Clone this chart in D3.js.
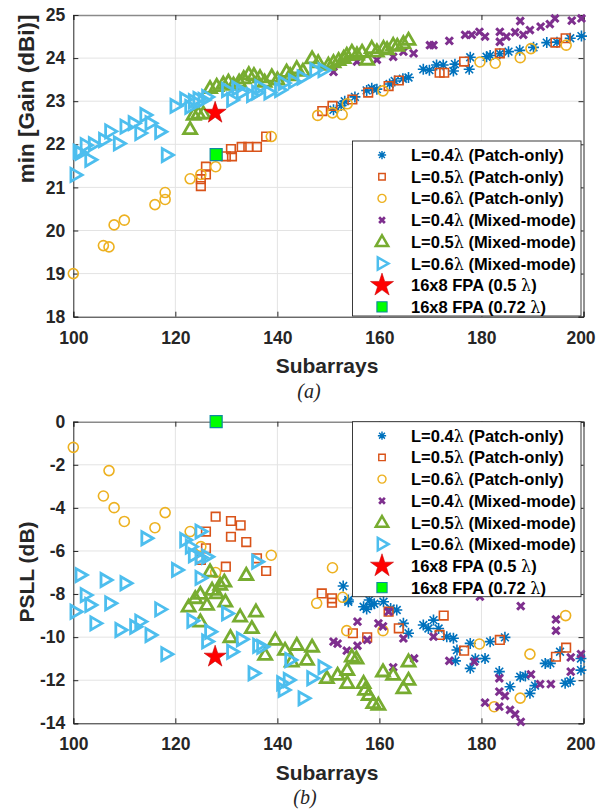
<!DOCTYPE html>
<html><head><meta charset="utf-8">
<script src="https://cdn.jsdelivr.net/npm/d3@7"></script>
<style>body{margin:0;background:#fff}svg{display:block}</style>
</head><body>
<script>
// ---------- DATA ----------
const xTicks = [100,120,140,160,180,200];
const gainTicks = [18,19,20,21,22,23,24,25];
const psllTicks = [0,-2,-4,-6,-8,-10,-12,-14];
const legendLabels = ["L=0.4λ (Patch-only)","L=0.5λ (Patch-only)","L=0.6λ (Patch-only)","L=0.4λ (Mixed-mode)","L=0.5λ (Mixed-mode)","L=0.6λ (Mixed-mode)","16x8 FPA (0.5 λ)","16x8 FPA (0.72 λ)"];

const gainP04 = [[151,22.8],[152.5,22.9],[153.2,23.0],[155.2,23.1],[157.5,23.25],[158.5,23.3],[159.5,23.28],[162,23.4],[163,23.47],[164.6,23.52],[165.7,23.55],[168.6,23.74],[169.8,23.72],[171.2,23.84],[172.5,23.84],[174.5,23.7],[174.8,23.86],[177.6,23.74],[177.8,24.02],[181,24.03],[181.7,24.06],[183.6,24.1],[185.3,24.15],[187.5,24.18],[190.2,24.25],[192.8,24.36],[194.8,24.37],[197.4,24.46],[199.6,24.51]];
const gainP05 = [[125,21.03],[125,21.19],[126,21.3],[126,21.48],[129.9,21.72],[131.1,21.72],[130.9,21.89],[133,21.94],[134.3,21.94],[136,21.94],[137.8,22.18],[148.8,22.77],[150.8,22.89],[154.7,23.04],[157.8,23.2],[161.8,23.35],[163.8,23.48],[171.8,23.66],[172.7,23.66],[176.6,23.92],[183.6,24.11],[194.5,24.36],[196.5,24.46]];
const gainP06 = [[100,19.0],[105.9,19.65],[107,19.62],[108,20.13],[110,20.24],[116,20.6],[118,20.72],[118,20.88],[122.9,21.2],[125,21.3],[127.9,21.48],[138.8,22.18],[147.9,22.67],[150.8,22.73],[152.7,22.69],[153.7,22.94],[160.7,23.24],[179.7,23.91],[182.7,23.88],[187.6,24.01],[189.7,24.22],[196.6,24.3]];
const gainM04 = [[151,23.68],[155.6,23.92],[159.5,23.96],[162.7,24.03],[164.7,24.15],[166.7,24.11],[169.9,24.3],[170.6,24.3],[173.7,24.4],[176.8,24.54],[178.1,24.54],[179.6,24.61],[180.7,24.5],[183.6,24.61],[183.6,24.38],[184.9,24.5],[186.6,24.6],[187.6,24.86],[188.2,24.54],[189.5,24.65],[191.6,24.73],[193.4,24.79],[194.4,24.92],[197.7,24.87],[199.6,24.92]];
const gainM05 = [[122.9,22.35],[123.6,22.68],[124.5,22.71],[125.5,22.71],[126.8,23.3],[128.1,23.35],[129.4,23.4],[130.4,23.45],[131.4,23.38],[132.5,23.45],[133.4,23.53],[134.4,23.62],[135.4,23.6],[136.6,23.55],[137.5,23.45],[138.9,23.57],[140,23.5],[141.8,23.68],[142.5,23.6],[143.8,23.76],[145,23.7],[146.8,23.99],[148,23.9],[150,23.84],[151,23.9],[152,23.95],[153,24.0],[153.6,24.07],[154.6,24.14],[155.6,24.08],[156.6,24.14],[157.6,23.96],[158.5,24.23],[159.5,24.15],[160.8,24.23],[161.5,24.2],[162.7,24.3],[163.5,24.28],[164.7,24.34],[165.7,24.42]];
const gainM06 = [[100.4,21.29],[101,21.83],[101.4,21.8],[102.4,21.98],[103.3,21.64],[104,22.0],[106,22.1],[107.2,22.3],[108.9,22.02],[110.2,22.41],[111.8,22.49],[113.1,22.26],[114.1,22.68],[115.1,22.49],[117,22.29],[118.3,21.75],[120,22.89],[121.9,23.04],[122.9,22.87],[123.6,23.0],[124.5,23.05],[125.5,23.03],[126.2,23.1],[130.1,23.26],[131.1,23.03],[132.1,23.3],[133,23.2],[135,23.14],[136,23.2],[136.6,23.33],[138.4,23.2],[140.5,23.26],[141.2,23.42],[143.2,23.46],[144.9,23.55],[147.4,23.72],[149,23.72]];
const gainStar = [[127.8,22.73]];
const gainFPA = [[128,21.76]];

const psllP04 = [[152.9,-7.63],[153.9,-8.28],[153.9,-8.36],[156.9,-8.59],[157.5,-8.7],[158,-8.28],[158.4,-8.5],[159,-8.45],[160.8,-8.36],[162.2,-8.67],[163.4,-8.74],[164.7,-9.36],[165.7,-9.82],[168.6,-9.44],[169.6,-9.6],[170.6,-9.21],[171.6,-9.6],[173.2,-9.98],[174.5,-10.05],[175.2,-10.6],[174.9,-11.1],[177.8,-10.29],[177.8,-11.45],[178.8,-11.0],[180.7,-10.99],[181.7,-10.21],[184.6,-10.01],[183.5,-11.6],[185.6,-12.3],[187.6,-11.84],[188.6,-11.8],[189.5,-12.61],[190.5,-12.25],[192.5,-11.22],[193.5,-11.22],[195.4,-10.68],[196.4,-12.14],[197.4,-12.05],[199.5,-10.99],[199.5,-11.53]];
const psllP05 = [[127.9,-4.41],[130.9,-4.61],[132.8,-4.81],[130.9,-5.34],[133.9,-5.59],[126,-5.1],[126,-5.88],[125,-6.42],[129.9,-6.73],[136,-6.34],[137.8,-6.93],[148.7,-7.97],[150.7,-8.2],[150.7,-8.4],[154.8,-9.82],[157.6,-10.01],[161.8,-8.82],[163.8,-9.59],[172.6,-9.0],[171.8,-9.9],[176.6,-10.63],[183.6,-10.13],[194.6,-10.91],[196.6,-10.49]];
const psllP06 = [[100,-1.19],[107,-2.27],[105.9,-3.45],[108,-3.99],[110,-4.63],[116,-4.92],[118,-4.22],[122.9,-5.1],[125,-5.8],[127.9,-7.0],[138.8,-6.2],[150.8,-6.78],[147.7,-8.43],[152.8,-8.15],[153.6,-9.7],[160.7,-9.7],[179.6,-10.32],[182.5,-13.23],[187.6,-12.83],[189.5,-10.79],[196.5,-9.0]];
const psllM04 = [[151,-10.21],[151.8,-10.3],[153.6,-10.63],[155.7,-9.28],[155.7,-10.4],[157.6,-10.13],[159.8,-9.36],[160.7,-9.5],[161.8,-8.82],[162.7,-11.4],[164.7,-10.06],[166.8,-10.99],[170.6,-9.98],[173.7,-11.1],[178.6,-11.14],[179.7,-8.12],[180.7,-13.04],[183.5,-11.91],[183.5,-12.53],[184.6,-12.73],[183.5,-13.23],[185.6,-13.38],[186.6,-13.58],[187.7,-13.93],[187.7,-8.56],[189.7,-11.73],[191.5,-12.18],[193.6,-12.18],[194.6,-9.18],[194.6,-9.7],[197.5,-10.94],[197.5,-11.6],[199.5,-10.79]];
const psllM05 = [[126.8,-6.96],[129.6,-7.43],[133.9,-7.12],[122.6,-8.59],[123.9,-8.2],[124.9,-8.0],[126.2,-8.51],[127.2,-7.81],[128.8,-7.58],[128.1,-7.97],[129.8,-8.36],[124.9,-9.28],[130.8,-10.01],[132.7,-9.05],[135,-9.59],[135.8,-8.82],[139.6,-10.13],[137.6,-10.83],[141.5,-10.6],[143.8,-10.37],[142.8,-11.14],[145.8,-11.06],[146.8,-10.45],[149.7,-11.91],[151.8,-11.76],[153.7,-11.53],[153.7,-12.14],[154.6,-10.91],[155.5,-11.0],[156.9,-12.14],[157.2,-12.45],[157.9,-12.69],[158.8,-13.07],[159.8,-13.15],[160.7,-11.6],[162.7,-11.76],[164.7,-12.38],[165.7,-11.99],[165.7,-11.14]];
const psllM06 = [[114.3,-5.41],[121.9,-5.49],[123,-5.8],[124.9,-5.1],[123.6,-6.2],[124.9,-6.3],[126.2,-6.27],[124.9,-7.25],[120.3,-6.88],[101.4,-7.12],[106.3,-7.35],[110.2,-7.5],[102.4,-8.05],[103.3,-8.51],[100.4,-8.82],[107.2,-8.43],[104.3,-9.36],[109.2,-9.67],[112.1,-9.52],[113.1,-9.28],[115.1,-9.9],[117,-8.71],[118.2,-10.79],[123.3,-9.24],[126.8,-9.75],[126.2,-10.2],[130.1,-8.9],[131.1,-10.68],[133,-10.1],[135.3,-11.68],[136.2,-10.4],[136,-6.5],[137,-10.45],[142.5,-11.06],[140.9,-12.14],[141.2,-12.45],[142.2,-11.99],[146.8,-11.91],[149,-11.4],[145.1,-12.84]];
const psllStar = [[127.8,-10.91]];
const psllFPA = [[128,0]];

// ---------- STYLE ----------
const C = {blue:"#0072BD", orange:"#D95319", yellow:"#EDB120", purple:"#7E2F8E", green:"#77AC30", cyan:"#4DBEEE", red:"#FF0000", lime:"#00FF00"};
const FONT = "'Liberation Sans', Arial, Helvetica, sans-serif";

const W = 597, H = 810;
const svg = d3.select("body").append("svg").attr("width", W).attr("height", H);

function markerPath(type, s) {
  const p = d3.path();
  if (type === "ast") {
    const r = 5.5*s, d = r*0.707;
    p.moveTo(0,-r); p.lineTo(0,r); p.moveTo(-r,0); p.lineTo(r,0);
    p.moveTo(-d,-d); p.lineTo(d,d); p.moveTo(-d,d); p.lineTo(d,-d);
    return p.toString();
  }
  if (type === "sq") { const r = 4.3*s; p.rect(-r,-r,2*r,2*r); return p.toString(); }
  if (type === "circ") { const r = 5*s; p.arc(0,0,r,0,2*Math.PI); p.closePath(); return p.toString(); }
  if (type === "x") { const r = 3.6*s; p.moveTo(-r,-r); p.lineTo(r,r); p.moveTo(-r,r); p.lineTo(r,-r); return p.toString(); }
  if (type === "tri") { const r = 6.5*s; p.moveTo(0,-r*1.05); p.lineTo(r*1.0,r*0.68); p.lineTo(-r*1.0,r*0.68); p.closePath(); return p.toString(); }
  if (type === "rtri") { const r = 6.5*s; p.moveTo(r*1.05,0); p.lineTo(-r*0.68,-r*1.0); p.lineTo(-r*0.68,r*1.0); p.closePath(); return p.toString(); }
  if (type === "star") { return d3.symbol(d3.symbolStar, 150*s*s)(); }
  if (type === "fsq") { const r = 6*s; p.rect(-r,-r,2*r,2*r); return p.toString(); }
}
const seriesStyle = [
  {type:"ast", stroke:C.blue, fill:"none", sw:1.6},
  {type:"sq", stroke:C.orange, fill:"none", sw:1.6},
  {type:"circ", stroke:C.yellow, fill:"none", sw:1.6},
  {type:"x", stroke:C.purple, fill:"none", sw:3},
  {type:"tri", stroke:C.green, fill:"none", sw:2.8},
  {type:"rtri", stroke:C.cyan, fill:"none", sw:2.8},
  {type:"star", stroke:"#C00000", fill:C.red, sw:0.6},
  {type:"fsq", stroke:"#0E8AA0", fill:C.lime, sw:1.2}
];

function panel(cfg) {
  const {x0,x1,y0,y1,ydom,yticks,data,ylabel,ylabelY,ylabelSize,xlabY,capY,cap,legendY} = cfg;
  const x = d3.scaleLinear().domain([100,200]).range([x0,x1]);
  const y = d3.scaleLinear().domain(ydom).range([y1,y0]);
  const g = svg.append("g");
  // grid
  g.append("g").selectAll("line").data(xTicks.slice(1,-1)).join("line")
    .attr("x1",d=>x(d)).attr("x2",d=>x(d)).attr("y1",y0).attr("y2",y1)
    .attr("stroke","#e3e3e3").attr("stroke-width",1);
  g.append("g").selectAll("line").data(yticks.filter(t=>t!==ydom[0]&&t!==ydom[1])).join("line")
    .attr("x1",x0).attr("x2",x1).attr("y1",d=>y(d)).attr("y2",d=>y(d))
    .attr("stroke","#e3e3e3").attr("stroke-width",1);
  // axes
  const ax = g.append("g").attr("transform",`translate(0,${y1})`)
    .call(d3.axisBottom(x).tickValues(xTicks).tickSize(-5).tickPadding(14.5));
  const axT = g.append("g").attr("transform",`translate(0,${y0})`)
    .call(d3.axisTop(x).tickValues(xTicks).tickSize(-5).tickFormat(""));
  const ay = g.append("g").attr("transform",`translate(${x0},0)`)
    .call(d3.axisLeft(y).tickValues(yticks).tickSize(-5).tickPadding(8).tickFormat(d3.format("d")));
  const ayR = g.append("g").attr("transform",`translate(${x1},0)`)
    .call(d3.axisRight(y).tickValues(yticks).tickSize(-5).tickFormat(""));
  [ax,axT,ay,ayR].forEach(a=>{
    a.select(".domain").attr("stroke","#262626").attr("stroke-width",1);
    a.selectAll(".tick line").attr("stroke","#262626");
    a.selectAll("text").attr("font-family",FONT).attr("font-weight","bold").attr("font-size",17.5).attr("fill","#262626");
  });
  ay.selectAll("text").text(d=>String(d).replace("−","-"));
  // keep the last x label inside the page
  ax.selectAll(".tick text").filter(d=>d===200).attr("dx",-3);
  axT.select(".domain").attr("stroke","#8a8a8a").attr("stroke-width",1.6);
  // labels
  g.append("text").attr("x",327).attr("y",xlabY).attr("text-anchor","middle")
    .attr("font-family",FONT).attr("font-weight","bold").attr("font-size",21).attr("fill","#262626").text("Subarrays");
  g.append("text").attr("transform",`translate(34,${ylabelY}) rotate(-90)`).attr("text-anchor","middle")
    .attr("font-family",FONT).attr("font-weight","bold").attr("font-size",ylabelSize).attr("fill","#262626").text(ylabel);
  g.append("text").attr("x",cfg.capX).attr("y",capY).attr("text-anchor","middle")
    .attr("font-family","'Liberation Serif','Times New Roman',serif").attr("font-style","italic").attr("font-size",20).attr("fill","#262626").text(cap);
  // markers
  const plot = g.append("g");
  data.forEach((arr,i)=>{
    const st = seriesStyle[i];
    plot.append("g").selectAll("path").data(arr).join("path")
      .attr("transform",d=>`translate(${x(d[0])},${y(d[1])})`)
      .attr("d",markerPath(st.type,1))
      .attr("fill",st.fill).attr("stroke",st.stroke).attr("stroke-width",st.sw)
      .attr("stroke-linejoin","miter");
  });
  // legend
  const lx0 = 352.5, lx1 = 581, ly0 = legendY, lh = 175;
  const lg = g.append("g");
  lg.append("rect").attr("x",lx0).attr("y",ly0).attr("width",lx1-lx0).attr("height",lh)
    .attr("fill","#fff").attr("stroke","#262626").attr("stroke-width",0.9);
  const legScale = [0.75,0.75,0.8,0.8,0.95,0.95,1.05,0.85];
  legendLabels.forEach((lab,i)=>{
    const cy = ly0 + 14 + i*21.7;
    const st = seriesStyle[i];
    lg.append("path").attr("transform",`translate(382,${cy})`).attr("d",markerPath(st.type,legScale[i]))
      .attr("fill",st.fill).attr("stroke",st.stroke).attr("stroke-width",st.sw*0.9);
    const t = lg.append("text").attr("x",411).attr("y",cy+6)
      .attr("font-family",FONT).attr("font-weight","bold").attr("font-size",16.5).attr("fill","#000");
    const parts = lab.split("λ");
    t.append("tspan").text(parts[0]);
    t.append("tspan").attr("font-family","'DejaVu Serif','Liberation Serif',serif").attr("font-weight","normal").attr("font-size",16).text("λ");
    t.append("tspan").text(parts[1]);
  });
}

panel({x0:73.3,x1:583.5,y0:15,y1:316.7,ydom:[18,25],yticks:gainTicks,
  data:[gainP04,gainP05,gainP06,gainM04,gainM05,gainM06,gainStar,gainFPA],
  ylabel:"min [Gain (dBi)]",ylabelY:99,ylabelSize:22.5,xlabY:373,capY:398,capX:309,cap:"(a)",legendY:141});
panel({x0:73.3,x1:583.5,y0:421.7,y1:723.3,ydom:[-14,0],yticks:psllTicks,
  data:[psllP04,psllP05,psllP06,psllM04,psllM05,psllM06,psllStar,psllFPA],
  ylabel:"PSLL (dB)",ylabelY:572,ylabelSize:21,xlabY:780,capY:804,capX:305,cap:"(b)",legendY:421.7});
</script>
</body></html>
